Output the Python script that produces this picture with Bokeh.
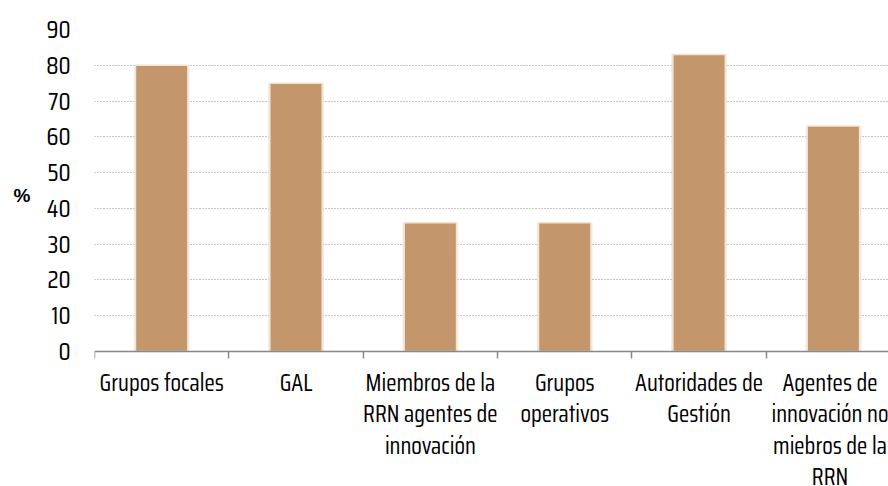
from bokeh.plotting import figure
from bokeh.models import FixedTicker, Range1d, ColumnDataSource, LinearAxis
from bokeh.embed import file_html
from bokeh.resources import INLINE

categories = ["Grupos focales", "GAL", "Miembros de la\nRRN agentes de\ninnovación",
              "Grupos\noperativos", "Autoridades de\nGestión",
              "Agentes de\ninnovación no\nmiebros de la\nRRN"]
values = [80, 75, 36, 36, 83, 63]
y_ticks = [0, 10, 20, 30, 40, 50, 60, 70, 80, 90]

FONT = "Saira Condensed"

centers = [i + 0.5 for i in range(len(categories))]
bounds = [i for i in range(len(categories) + 1)]

# the frame reaches the bottom of the page so the category texts (drawn by an axis
# fixed at y=0) are not clipped
p = figure(width=888, height=486, output_backend="svg", toolbar_location=None,
           x_range=Range1d(0, 5.91), y_range=Range1d(-37.73, 90),
           min_border_left=94, min_border_right=0, min_border_top=29, min_border_bottom=0)
p.outline_line_color = None

src = ColumnDataSource(dict(x=centers, top=values))
p.vbar(x="x", top="top", width=0.415, source=src, fill_color="#d9d9d9", fill_alpha=0.5,
       line_color=None)
p.vbar(x="x", top="top", width=0.39, source=src, fill_color="#C3976B",
       line_color="#f2e4d4", line_width=1.5)

xa = p.xaxis[0]
xa.fixed_location = 0
xa.ticker = FixedTicker(ticks=centers, minor_ticks=bounds)
xa.major_label_overrides = {c: lab for c, lab in zip(centers, categories)}
xa.major_label_text_font = FONT
xa.major_label_text_font_size = "24px"
xa.major_label_text_color = "black"
xa.major_label_text_line_height = 0.83
xa.major_label_standoff = 5
xa.major_tick_out = 0
xa.major_tick_in = 0
xa.minor_tick_out = 7
xa.minor_tick_in = 0
xa.minor_tick_line_color = "#888888"
xa.minor_tick_line_width = 1.5
xa.axis_line_color = "#888888"
xa.axis_line_width = 1.5

ya = p.yaxis[0]
ya.ticker = FixedTicker(ticks=y_ticks)
ya.axis_line_color = None
ya.major_tick_line_color = None
ya.minor_tick_line_color = None
ya.major_label_standoff = 18
ya.major_label_text_font = FONT
ya.major_label_text_font_size = "25px"
ya.major_label_text_color = "black"

# "%" unit text, placed with an extra left axis so it sits beside the 40-50 band
unit_axis = LinearAxis(ticker=FixedTicker(ticks=[43.5]),
                       major_label_overrides={43.5: "%"})
unit_axis.axis_line_color = None
unit_axis.major_tick_line_color = None
unit_axis.minor_tick_line_color = None
unit_axis.major_label_standoff = 7
unit_axis.major_label_text_font = "Liberation Sans"
unit_axis.major_label_text_font_style = "bold"
unit_axis.major_label_text_font_size = "19px"
unit_axis.major_label_text_color = "black"
p.add_layout(unit_axis, "left")

p.xgrid.grid_line_color = None
p.ygrid.ticker = FixedTicker(ticks=y_ticks[1:])
p.ygrid.grid_line_color = "#8c8c8c"
p.ygrid.grid_line_dash = "1 2"
p.ygrid.grid_line_width = 1.2

open("out.html", "w").write(file_html(p, INLINE))
